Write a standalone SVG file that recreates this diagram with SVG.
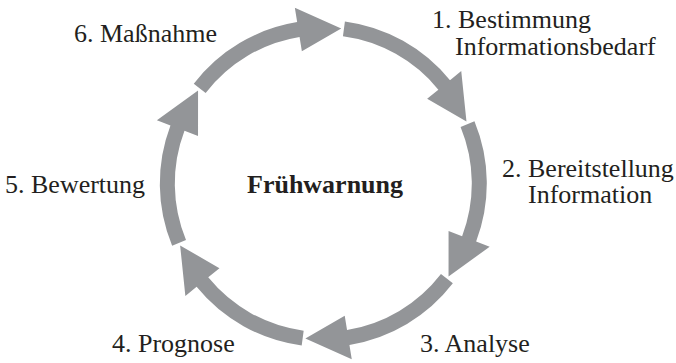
<svg xmlns="http://www.w3.org/2000/svg" xmlns:xlink="http://www.w3.org/1999/xlink" width="676" height="363" viewBox="0 0 676 363">
  <style>
    .lbl { font-family: "Liberation Serif", "Times New Roman", serif; font-size: 26px; fill: #231f20; }
    .title { font-family: "Liberation Serif", "Times New Roman", serif; font-size: 26px; font-weight: bold; fill: #231f20; }
    .arr { fill: #939598; }
  </style>
  <defs>
    <path id="arrow" class="arr" d="M -129.54 -99.75 A 163.5 163.5 0 0 1 -26.14 -161.39 L -28.46 -175.70 L 17.93 -154.97 L -21.43 -132.27 L -23.75 -146.58 A 148.5 148.5 0 0 0 -117.66 -90.60 Z"/>
  </defs>
  <rect width="676" height="363" fill="#ffffff"/>
  <g id="connectors" transform="translate(323.3 183.5)">
    <use xlink:href="#arrow" href="#arrow"/>
    <use xlink:href="#arrow" href="#arrow" transform="rotate(60)"/>
    <use xlink:href="#arrow" href="#arrow" transform="rotate(120)"/>
    <use xlink:href="#arrow" href="#arrow" transform="rotate(180)"/>
    <use xlink:href="#arrow" href="#arrow" transform="rotate(240)"/>
    <use xlink:href="#arrow" href="#arrow" transform="rotate(300)"/>
  </g>
  <g id="center">
    <text class="title" x="247" y="193">Frühwarnung</text>
  </g>
  <g id="step1">
    <text class="lbl" x="432" y="28">1. Bestimmung</text>
    <text class="lbl" x="455" y="55">Informationsbedarf</text>
  </g>
  <g id="step2">
    <text class="lbl" x="502" y="177">2. Bereitstellung</text>
    <text class="lbl" x="528" y="203">Information</text>
  </g>
  <g id="step3">
    <text class="lbl" x="420" y="352">3. Analyse</text>
  </g>
  <g id="step4">
    <text class="lbl" x="112" y="352">4. Prognose</text>
  </g>
  <g id="step5">
    <text class="lbl" x="5" y="193">5. Bewertung</text>
  </g>
  <g id="step6">
    <text class="lbl" x="74" y="42">6. Maßnahme</text>
  </g>
</svg>
